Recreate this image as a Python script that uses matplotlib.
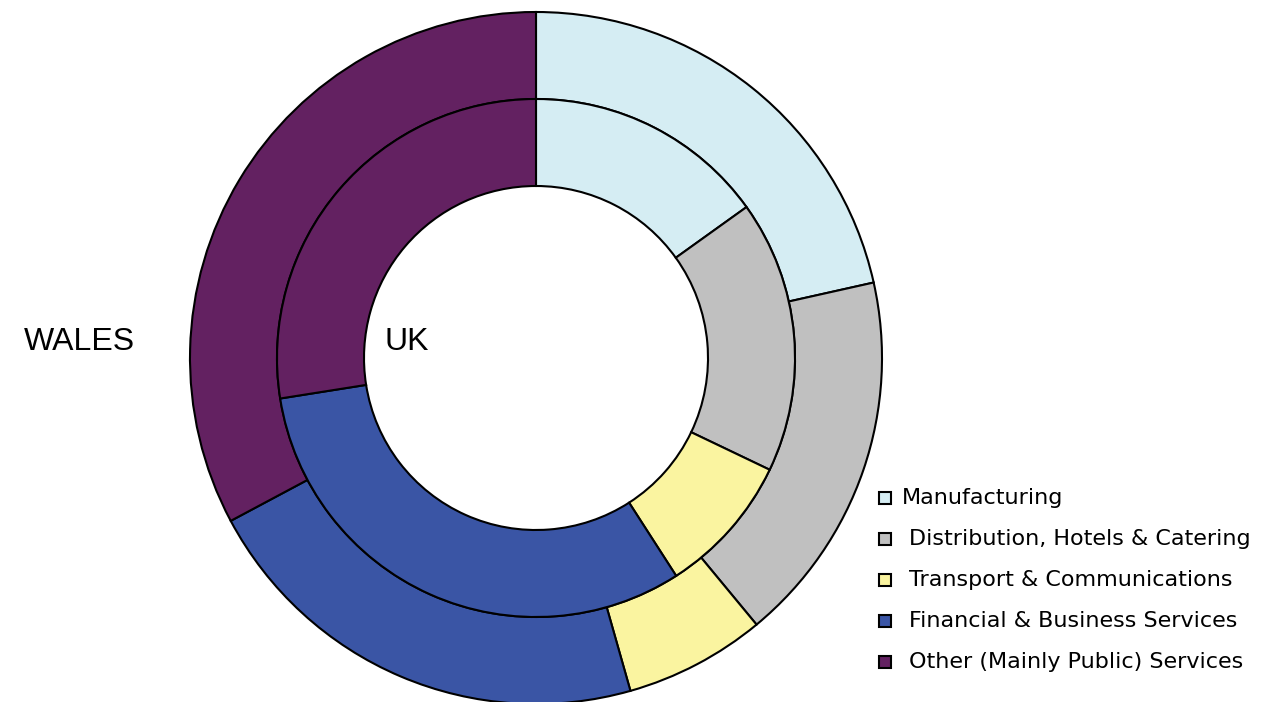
import matplotlib.pyplot as plt
from matplotlib.patches import Rectangle

plt.rcParams['font.family'] = ['Liberation Sans', 'DejaVu Sans']

# sector shares of output (%)
sectors = ['Manufacturing', 'Distribution, Hotels & Catering', 'Transport & Communications',
           'Financial & Business Services', 'Other (Mainly Public) Services']
wales = [21.5, 17.5, 6.6, 21.6, 32.8]
uk = [15.1, 17.0, 8.8, 31.6, 27.5]
colors = ['#D5EDF3', '#C0C0C0', '#FAF4A0', '#3A55A5', '#632161']

W, H = 1288, 702
fig = plt.figure(figsize=(W / 100, H / 100), dpi=100)
ax = fig.add_axes([0, 0, 1, 1])

cx, cy = 536, H - 358
r_out, ring = 346, 87
edge = dict(edgecolor='black', linewidth=1.5)

# outer ring: Wales, inner ring: UK
ax.pie(wales, colors=colors, radius=r_out, center=(cx, cy), startangle=90,
       counterclock=False, wedgeprops=dict(width=ring, **edge), frame=True)
ax.pie(uk, colors=colors, radius=r_out - ring, center=(cx, cy), startangle=90,
       counterclock=False, wedgeprops=dict(width=ring, **edge), frame=True)
ax.set_xlim(0, W)
ax.set_ylim(0, H)
ax.set_aspect('equal')
ax.axis('off')

ax.text(79, H - 342, 'WALES', fontsize=23, ha='center', va='center')
ax.text(407, H - 342, 'UK', fontsize=23, ha='center', va='center')

# legend
rows = [498, 539, 580, 621, 662]
text_x = [902, 909, 909, 909, 909]
for name, col, y, tx in zip(sectors, colors, rows, text_x):
    ax.add_patch(Rectangle((879, H - y - 6), 12, 12, facecolor=col,
                           edgecolor='black', linewidth=1.5))
    ax.text(tx, H - y, name, fontsize=16, family='DejaVu Sans',
            ha='left', va='center')

fig.savefig('out.png', dpi=100)
